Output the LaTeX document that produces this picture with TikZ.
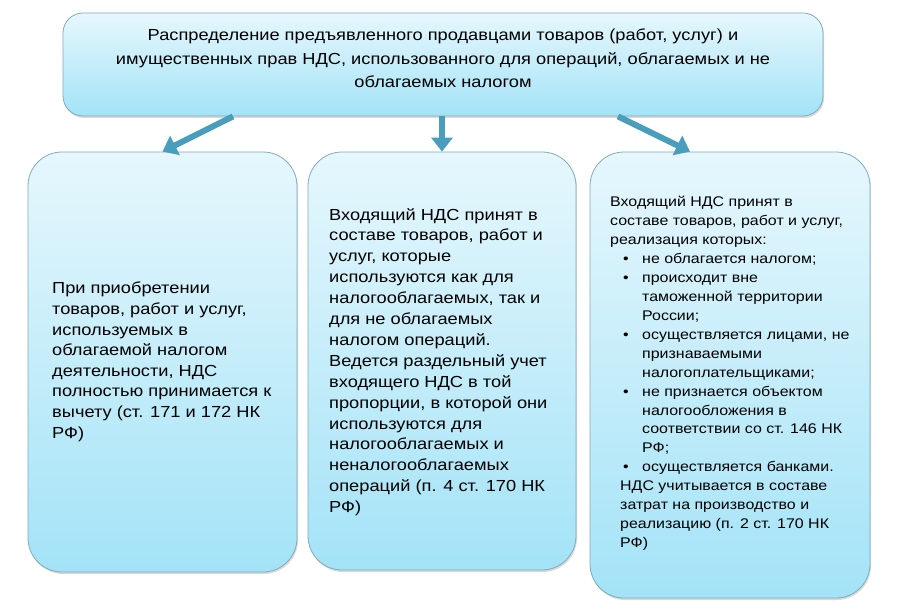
\documentclass[tikz,border=0pt]{standalone}
\usepackage{fontspec}
\setmainfont{Liberation Sans}[FakeStretch=1.14]
\usetikzlibrary{arrows.meta,shadows}
\definecolor{boxtop}{HTML}{E6F7FD}
\definecolor{boxbot}{HTML}{A3E3F7}
\definecolor{boxline}{HTML}{82ABBB}
\definecolor{arrowblue}{HTML}{4A9EBD}
\newcommand{\bul}{\makebox[32pt][l]{\hspace*{13pt}\textbullet}}
\newcommand{\ind}{\hspace*{32pt}}
\tikzset{
	panel/.style={draw=boxline, line width=0.8pt, rounded corners=34pt,
		top color=boxtop, bottom color=boxbot,
		drop shadow={opacity=0.3, shadow xshift=1pt, shadow yshift=-2pt}},
	headbox/.style={panel, rounded corners=20pt},
	txt/.style={align=left, inner sep=0pt, anchor=north west},
	link/.style={draw=arrowblue, line width=6pt, -{Triangle[width=21pt,length=14pt]}}
}

\begin{document}
\begin{tikzpicture}[x=1pt,y=-1pt]
	\useasboundingbox (0,0) rectangle (900,615);
	% boxes
	\node[headbox, minimum width=760pt, minimum height=103pt] (head) at (443,64.5) {};
	\node[panel, minimum width=269pt, minimum height=420pt] (left) at (162.5,362) {};
	\node[panel, minimum width=268pt, minimum height=418pt] (mid) at (442,361) {};
	\node[panel, minimum width=280pt, minimum height=446pt] (right) at (730,375) {};
	% arrows
	\draw[link] (head.south -| 233,0) -- (left.north);
	\draw[link] (head.south -| mid.north) -- (mid.north);
	\draw[link] (head.south -| 618,0) -- (right.north -| 690,0);
	% texts
	\node[txt, align=center, anchor=north, font=\fontsize{16}{23.2}\selectfont] (headtext) at (443,29)
	{Распределение предъявленного продавцами товаров (работ, услуг) и\\
		имущественных прав НДС, использованного для операций, облагаемых и не\\
		облагаемых налогом};
	\node[txt, font=\fontsize{16}{20.6}\selectfont] (lefttext) at (52,282)
	{При приобретении\\
		товаров, работ и услуг,\\
		используемых в\\
		облагаемой налогом\\
		деятельности, НДС\\
		полностью принимается к\\
		вычету (ст. 171 и 172 НК\\
		РФ)};
	\node[txt, font=\fontsize{16}{20.9}\selectfont] (midtext) at (329,208)
	{Входящий НДС принят в\\
		составе товаров, работ и\\
		услуг, которые\\
		используются как для\\
		налогооблагаемых, так и\\
		для не облагаемых\\
		налогом операций.\\
		Ведется раздельный учет\\
		входящего НДС в той\\
		пропорции, в которой они\\
		используются для\\
		налогооблагаемых и\\
		неналогооблагаемых\\
		операций (п. 4 ст. 170 НК\\
		РФ)};
	\node[txt, font=\fontsize{14}{18.95}\selectfont] (righttext) at (610,196)
	{Входящий НДС принят в\\
		составе товаров, работ и услуг,\\
		реализация которых:\\
		\bul не облагается налогом;\\
		\bul происходит вне\\
		\ind таможенной территории\\
		\ind России;\\
		\bul осуществляется лицами, не\\
		\ind признаваемыми\\
		\ind налогоплательщиками;\\
		\bul не признается объектом\\
		\ind налогообложения в\\
		\ind соответствии со ст. 146 НК\\
		\ind РФ;\\
		\bul осуществляется банками.\\
		\hspace*{10pt}НДС учитывается в составе\\
		\hspace*{10pt}затрат на производство и\\
		\hspace*{10pt}реализацию (п. 2 ст. 170 НК\\
		\hspace*{10pt}РФ)};
\end{tikzpicture}
\end{document}
